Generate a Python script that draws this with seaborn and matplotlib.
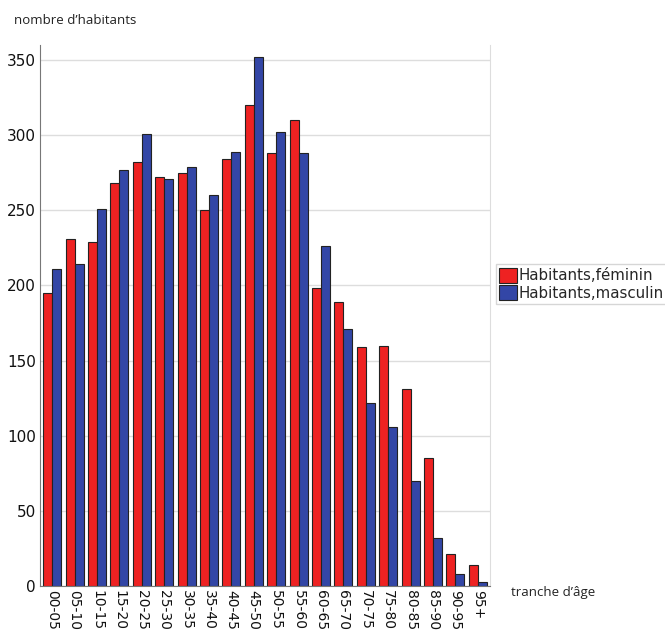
import pandas as pd
import matplotlib.pyplot as plt
import seaborn as sns

# age groups and counts
tranches = ['00-05', '05-10', '10-15', '15-20', '20-25', '25-30', '30-35', '35-40',
            '40-45', '45-50', '50-55', '55-60', '60-65', '65-70', '70-75', '75-80',
            '80-85', '85-90', '90-95', '95+']
feminin = [195, 231, 229, 268, 282, 272, 275, 250, 284, 320,
           288, 310, 198, 189, 159, 160, 131, 85, 21, 14]
masculin = [211, 214, 251, 277, 301, 271, 279, 260, 289, 352,
            302, 288, 226, 171, 122, 106, 70, 32, 8, 3]
series = ['Habitants,féminin', 'Habitants,masculin']
colors = ['#ee2222', '#3346a6']

df = pd.DataFrame({
    'tranche': tranches * 2,
    'valeur': feminin + masculin,
    'serie': [series[0]] * len(tranches) + [series[1]] * len(tranches),
})

sns.set_style('white')
plt.rcParams['font.family'] = ['DejaVu Sans']

fig = plt.figure(figsize=(6.65, 6.3), dpi=100)
ax = fig.add_axes([0.060, 0.0698, 0.677, 0.859])

sns.barplot(data=df, x='tranche', y='valeur', hue='serie', order=tranches,
            hue_order=series, palette=colors, width=0.8, saturation=1,
            edgecolor='#222222', linewidth=0.8, ax=ax)

ax.set_xlim(-0.55, len(tranches) - 0.45)
ax.set_ylim(0, 360)
ax.set_yticks(range(0, 351, 50))
ax.yaxis.grid(True, color='#dddddd', linewidth=1)
ax.set_axisbelow(True)
ax.set_xlabel('')
ax.set_ylabel('')
ax.tick_params(axis='x', rotation=-90, labelsize=10, length=0, pad=3,
               labelcolor='#111111')
ax.tick_params(axis='y', labelsize=11, length=0, pad=3, labelcolor='#111111')
for lab in ax.get_xticklabels():
    lab.set_va('top')
    lab.set_ha('center')

ax.spines['top'].set_visible(False)
ax.spines['left'].set_color('#777777')
ax.spines['bottom'].set_color('#777777')
ax.spines['right'].set_color('#dddddd')

leg = ax.legend(loc='center left', bbox_to_anchor=(1.012, 0.558), frameon=True,
                fontsize=10.8, handlelength=1.2, handleheight=1.2,
                handletextpad=0.05, borderpad=0.25, labelspacing=0.1,
                fancybox=False, borderaxespad=0)
leg.get_frame().set_edgecolor('#cccccc')

fig.text(0.021, 0.967, 'nombre d\u2019habitants', fontsize=9.5, color='#222222',
         family=['Open Sans'], va='center')
fig.text(0.768, 0.06, 'tranche d\u2019âge', fontsize=9.5, color='#222222',
         family=['Open Sans'], va='center')

plt.savefig('out.png', dpi=100)
